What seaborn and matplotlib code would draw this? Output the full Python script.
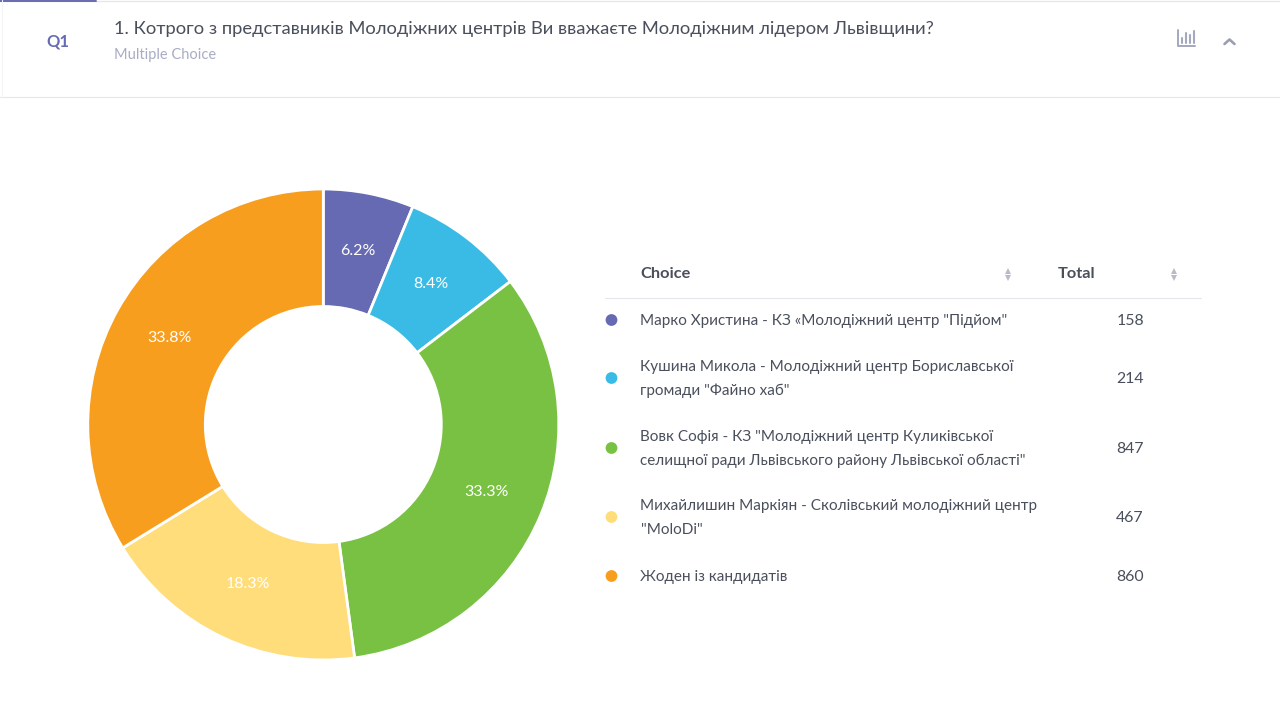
import matplotlib
matplotlib.use("Agg")
import matplotlib.pyplot as plt
import pandas as pd
import seaborn as sns

# chart data
choices = [
    'Марко Христина - КЗ «Молодіжний центр "Підйом"',
    'Кушина Микола - Молодіжний центр Бориславської\nгромади "Файно хаб"',
    'Вовк Софія - КЗ "Молодіжний центр Куликівської\nселищної ради Львівського району Львівської області"',
    'Михайлишин Маркіян - Сколівський молодіжний центр\n"MoloDi"',
    'Жоден із кандидатів',
]
totals = [158, 214, 847, 467, 860]
colors = ['#666AB2', '#3ABBE6', '#79C143', '#FFDD7A', '#F89E1E']
title = '1. Котрого з представників Молодіжних центрів Ви вважаєте Молодіжним лідером Львівщини?'
subtitle = 'Multiple Choice'
qnum = 'Q1'

sns.set_theme(style="white")
plt.rcParams['font.family'] = ['Lato', 'Noto Sans', 'DejaVu Sans']

W, H = 1280, 722
fig = plt.figure(figsize=(W / 100, H / 100), dpi=100, facecolor='white')

# overlay in pixel coordinates for the page furniture
page = fig.add_axes([0, 0, 1, 1])
page.set_xlim(0, W)
page.set_ylim(H, 0)
page.axis('off')

TEXT = '#4A4F5C'
MUTED = '#A9ADC4'
RULE = '#E6E7EC'

# header
page.plot([0, W], [0.8, 0.8], color=RULE, lw=1)
page.plot([0, 96], [0.8, 0.8], color='#666AB2', lw=1.4)
page.plot([0, W], [97, 97], color=RULE, lw=0.8)
page.plot([1.5, 1.5], [0, 97], color='#F5F5F8', lw=0.8)
page.text(58, 41.5, qnum, color='#666AB2', fontsize=12, fontweight='bold', ha='center', va='center')
page.text(114.5, 29, title, color=TEXT, fontsize=13.2, ha='left', va='center')
page.text(114, 54.5, subtitle, color=MUTED, fontsize=10.5, ha='left', va='center')

# bar icon and chevron
page.plot([1178, 1178, 1195], [30, 45.5, 45.5], color='#A4A8C0', lw=1.4, solid_capstyle='round')
for bx, top in zip([1182, 1186, 1190, 1193.5], [38, 33, 35, 31]):
    page.plot([bx, bx], [top, 43], color='#A4A8C0', lw=1.5)
page.plot([1224.5, 1229.5, 1234.5], [44, 39.5, 44], color='#9A9EB4', lw=1.9, solid_capstyle='round')

# donut
ax = fig.add_axes([(323.3 - 240) / W, 1 - (424.5 + 240) / H, 480 / W, 480 / H])
wedges, _, autotexts = ax.pie(
    totals, colors=colors, startangle=90, counterclock=False, radius=235.5 / 240,
    autopct='%.1f%%', pctdistance=0.75,
    wedgeprops=dict(width=117.5 / 240, edgecolor='white', linewidth=2),
    textprops=dict(color='white', fontsize=11.5),
)
ax.set_xlim(-1, 1)
ax.set_ylim(-1, 1)

# table header
page.text(640.5, 274, 'Choice', color=TEXT, fontsize=11.8, fontweight='bold', ha='left', va='center')
page.text(1058, 274, 'Total', color=TEXT, fontsize=11.8, fontweight='bold', ha='left', va='center')
page.plot([605, 1201], [297.5, 297.5], color=RULE, lw=0.8)
for sx in [1008, 1173.5]:
    page.plot([sx], [270.5], marker='^', ms=4.5, color='#B9BCC8', mew=0)
    page.plot([sx], [277.5], marker='v', ms=4.5, color='#B9BCC8', mew=0)

# table rows
row_y = [320, 378, 448, 517, 576]
dots = pd.DataFrame({'x': [611.5] * len(choices), 'y': row_y, 'choice': choices})
sns.scatterplot(data=dots, x='x', y='y', hue='choice', palette=colors, s=72,
                edgecolor='none', legend=False, ax=page)
page.set_xlim(0, W)
page.set_ylim(H, 0)
for choice, total, y in zip(choices, totals, row_y):
    page.text(640.5, y + 1, choice, color=TEXT, fontsize=10.95, ha='left', va='center', linespacing=1.85)
    page.text(1130, y + 1, str(total), color=TEXT, fontsize=11.4, ha='center', va='center')

fig.savefig('out.png', dpi=100, facecolor='white')
